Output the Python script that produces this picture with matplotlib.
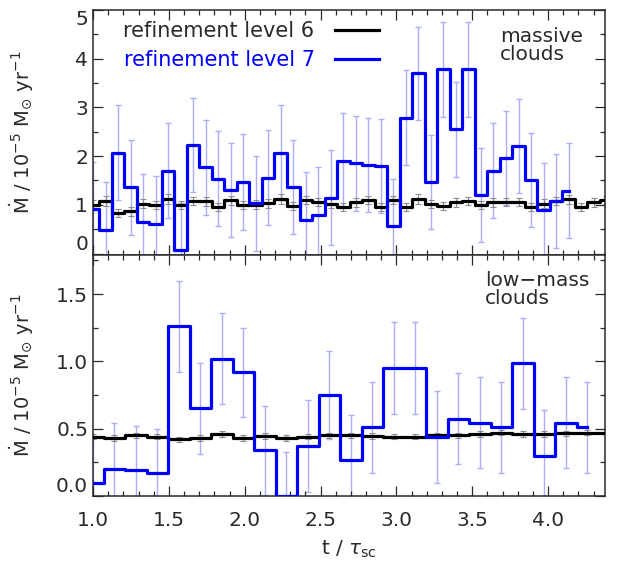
import numpy as np
import matplotlib
matplotlib.use("Agg")
import matplotlib.pyplot as plt
from matplotlib.ticker import MultipleLocator

# ---- data ----
# top panel (massive clouds), bins of ~0.0825 tau_sc starting at t = 1.0
t0 = 1.0
dt_massive = 0.0825
massive_lvl7 = [0.91, 0.48, 2.07, 1.36, 0.64, 0.61, 1.70, 0.07, 2.23, 1.77,
                1.54, 1.30, 1.47, 1.03, 1.56, 2.07, 1.37, 0.69, 0.80, 1.15,
                1.91, 1.85, 1.82, 1.80, 0.57, 2.79, 3.70, 1.47, 3.78, 2.55,
                3.78, 1.20, 1.70, 1.96, 2.21, 1.51, 0.89, 1.08, 1.29]
massive_lvl7_err = [0.97, 0.98, 0.97, 0.97, 0.99, 0.98, 0.97, 0.97, 0.97, 0.98,
                    0.97, 0.97, 0.98, 0.97, 0.97, 0.97, 0.97, 0.98, 0.97, 0.97,
                    0.97, 0.97, 0.97, 0.97, 0.97, 0.97, 0.96, 0.97, 0.97, 0.97,
                    0.97, 0.97, 0.97, 0.97, 0.97, 0.97, 0.97, 0.97, 0.97]
massive_lvl6 = [1.00, 1.08, 0.83, 0.87, 1.02, 1.00, 1.12, 0.99, 1.08, 1.07,
                0.96, 1.09, 0.99, 1.00, 1.03, 1.12, 0.98, 1.10, 1.05, 1.02,
                0.95, 1.05, 1.10, 0.95, 1.10, 0.95, 1.12, 1.02, 0.98, 1.05,
                1.08, 1.00, 1.05, 1.06, 1.06, 0.96, 1.02, 1.08, 1.11, 0.95,
                1.05, 1.10]
massive_lvl6_err = [0.09, 0.10, 0.08, 0.09, 0.09, 0.08, 0.10, 0.08, 0.09, 0.09,
                    0.08, 0.09, 0.08, 0.09, 0.09, 0.10, 0.08, 0.09, 0.08, 0.09,
                    0.08, 0.09, 0.09, 0.08, 0.09, 0.08, 0.10, 0.08, 0.08, 0.09,
                    0.09, 0.08, 0.09, 0.09, 0.09, 0.08, 0.09, 0.09, 0.09, 0.08,
                    0.09, 0.09]

# bottom panel (low-mass clouds), bins of ~0.1417 tau_sc
dt_lowmass = 0.1417
lowmass_lvl7 = [0.10, 0.20, 0.19, 0.17, 1.26, 0.65, 1.02, 0.92, 0.34, 0.00,
                0.37, 0.75, 0.27, 0.51, 0.95, 0.95, 0.44, 0.575, 0.545, 0.51,
                0.985, 0.30, 0.545, 0.51]
lowmass_lvl7_err = [0.34, 0.34, 0.33, 0.33, 0.34, 0.34, 0.34, 0.33, 0.33, 0.33,
                    0.34, 0.33, 0.33, 0.34, 0.34, 0.34, 0.34, 0.34, 0.34, 0.34,
                    0.34, 0.34, 0.34, 0.34]
lowmass_lvl6 = [0.44, 0.43, 0.45, 0.44, 0.42, 0.43, 0.46, 0.43, 0.445, 0.43,
                0.44, 0.45, 0.45, 0.445, 0.44, 0.44, 0.45, 0.45, 0.46, 0.47,
                0.46, 0.46, 0.465, 0.47, 0.47]
lowmass_lvl6_err = [0.02, 0.02, 0.02, 0.02, 0.02, 0.02, 0.02, 0.02, 0.02, 0.02,
                    0.02, 0.02, 0.02, 0.02, 0.02, 0.02, 0.02, 0.02, 0.02, 0.02,
                    0.02, 0.02, 0.02, 0.02, 0.02]

t_massive7 = t0 + dt_massive * np.arange(len(massive_lvl7))
t_massive6 = t0 + dt_massive * np.arange(len(massive_lvl6))
t_low7 = t0 + dt_lowmass * np.arange(len(lowmass_lvl7))
t_low6 = t0 + dt_lowmass * np.arange(len(lowmass_lvl6))

# ---- style ----
plt.rcParams['font.family'] = ['DejaVu Sans']
plt.rcParams['font.size'] = 14
plt.rcParams['mathtext.fontset'] = 'dejavusans'
txt_col = "#2a2a2a"
blue = "#0000ff"
blue_err = "#adadff"
grey_err = "#8c8c8c"

fig = plt.figure(figsize=(6.23, 5.64), dpi=100)
ax_top = fig.add_axes([93 / 623, 1 - 255 / 564, 512 / 623, 245 / 564])
ax_bot = fig.add_axes([93 / 623, 1 - 496 / 564, 512 / 623, 241 / 564])


def draw_panel(ax, t6, y6, e6, t7, y7, e7):
    ax.errorbar(t7, y7, yerr=e7, fmt="none", ecolor=blue_err, elinewidth=1.0,
                capsize=2.5, capthick=1.0, zorder=1)
    ax.errorbar(t6, y6, yerr=e6, fmt="none", ecolor=grey_err, elinewidth=0.8,
                capsize=2.5, capthick=0.8, zorder=2)
    l6, = ax.step(t6, y6, where="mid", color="black", lw=2.3, zorder=3)
    l7, = ax.step(t7, y7, where="mid", color=blue, lw=2.3, zorder=4)
    ax.set_xlim(1.0, 4.375)
    ax.xaxis.set_major_locator(MultipleLocator(0.5))
    ax.xaxis.set_minor_locator(MultipleLocator(0.1))
    ax.tick_params(which="both", direction="in", top=True, right=True,
                   colors=txt_col, labelsize=14.5, width=0.9)
    ax.tick_params(which="major", length=7)
    ax.tick_params(which="minor", length=3.5)
    for sp in ax.spines.values():
        sp.set_color(txt_col)
        sp.set_linewidth(1.1)
    return l6, l7


l6, l7 = draw_panel(ax_top, t_massive6, massive_lvl6, massive_lvl6_err,
                    t_massive7, massive_lvl7, massive_lvl7_err)
draw_panel(ax_bot, t_low6, lowmass_lvl6, lowmass_lvl6_err,
           t_low7, lowmass_lvl7, lowmass_lvl7_err)

# top panel axes
ax_top.set_ylim(-0.03, 5.0)
ax_top.set_yticks([0, 1, 2, 3, 4, 5])
ax_top.set_yticklabels(["0", "1", "2", "3", "4", "5"])
ax_top.yaxis.set_minor_locator(MultipleLocator(0.5))
ax_top.tick_params(labelbottom=False)
ax_top.get_yticklabels()[0].set_va("bottom")
ax_top.get_yticklabels()[-1].set_va("top")

# bottom panel axes
ax_bot.set_ylim(0.0, 1.79)
ax_bot.set_yticks([0.0, 0.5, 1.0, 1.5])
ax_bot.set_yticklabels(["0.0", "0.5", "1.0", "1.5"])
ax_bot.yaxis.set_minor_locator(MultipleLocator(0.25))
ax_bot.get_yticklabels()[0].set_va("bottom")
ax_bot.set_xticks([1.0, 1.5, 2.0, 2.5, 3.0, 3.5, 4.0])
ax_bot.set_xticklabels(["1.0", "1.5", "2.0", "2.5", "3.0", "3.5", "4.0"])
ax_bot.tick_params(axis="x", pad=11)

# legend: text first, line sample after
leg = ax_top.legend([l6, l7], ["refinement level 6", "refinement level 7"],
                    loc="upper left", bbox_to_anchor=(0.037, 1.0),
                    frameon=False, markerfirst=False, handlelength=2.1,
                    handletextpad=1.0, labelspacing=0.4, fontsize=15,
                    borderaxespad=0.15)
leg.get_texts()[0].set_color(txt_col)
leg.get_texts()[1].set_color(blue)

ax_top.text(0.795, 0.93, "massive\nclouds", transform=ax_top.transAxes,
            ha="left", va="top", fontsize=14.5, color=txt_col, linespacing=0.95)
ax_bot.text(0.766, 0.935, "low\u2212mass\nclouds", transform=ax_bot.transAxes,
            ha="left", va="top", fontsize=14.5, color=txt_col, linespacing=0.95)

ylab = r"$\dot{\rm M}$ / 10$^{-5}$ M$_{\odot}$ yr$^{-1}$"
fig.text(22 / 623, 1 - 132 / 564, ylab, rotation=90, ha="center", va="center",
         fontsize=14, color=txt_col)
fig.text(22 / 623, 1 - 375 / 564, ylab, rotation=90, ha="center", va="center",
         fontsize=14, color=txt_col)
fig.text(349 / 623, 1 - 549 / 564, r"t / $\tau_{\rm sc}$", ha="center",
         va="center", fontsize=14.5, color=txt_col)

fig.savefig("out.png", dpi=100)
